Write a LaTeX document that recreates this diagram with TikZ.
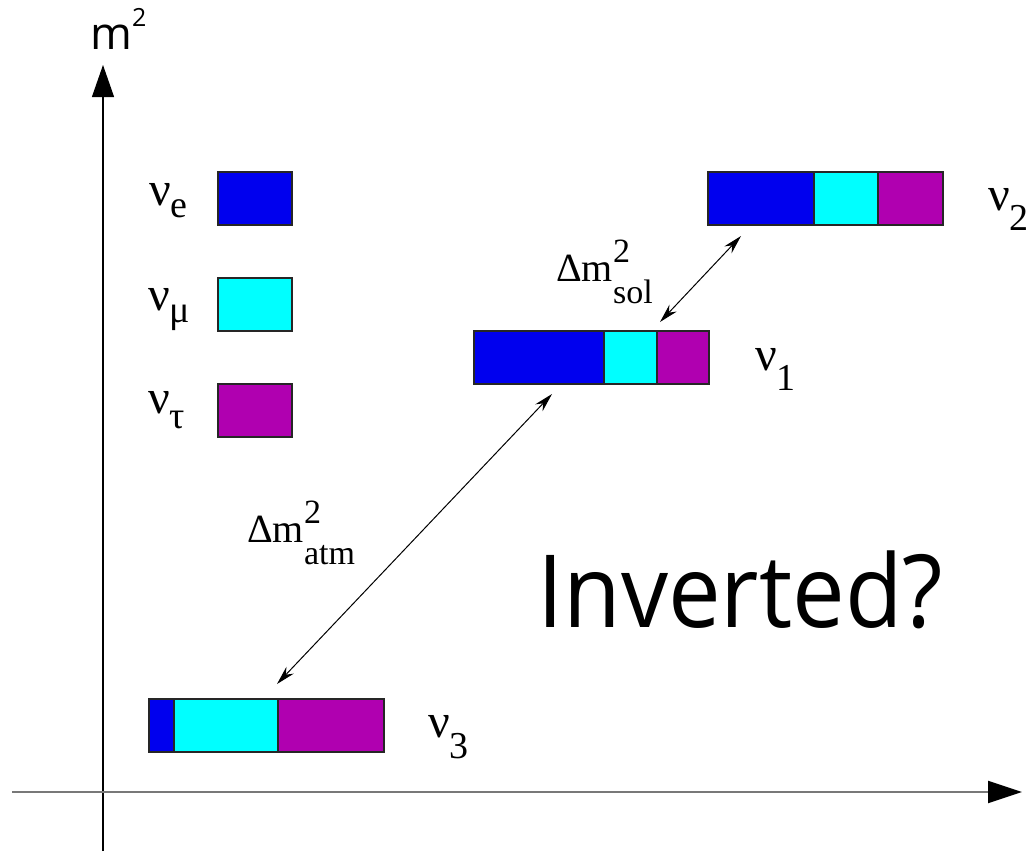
\documentclass[tikz,border=0pt]{standalone}
\usepackage{fontspec}
\setmainfont{Liberation Serif}
\newfontfamily\serf{Liberation Serif}
\newfontfamily\sansf{Open Sans}
\usetikzlibrary{arrows.meta}
\definecolor{nublue}{RGB}{0,0,238}
\definecolor{nucyan}{RGB}{0,255,255}
\definecolor{numag}{RGB}{176,0,176}
\definecolor{axgray}{RGB}{120,120,120}
\newcommand{\nulab}[2]{{\serf\fontsize{48}{48}\selectfont ν}\raisebox{-#2pt}{\serf\fontsize{38}{38}\selectfont #1}}
\newcommand{\dmlab}[1]{{\serf\fontsize{40}{40}\selectfont Δm}{\serf\fontsize{34}{34}\selectfont\rlap{\raisebox{19pt}{2}}\raisebox{-22pt}{#1}}}
\begin{document}
\begin{tikzpicture}[x=1pt,y=-1pt,
  seg/.style={draw=black!85,line width=1.5pt,inner sep=0pt,anchor=north west,minimum height=53pt},
  lab/.style={inner sep=0pt,anchor=base west},
  gap/.style={<->,>={Stealth[length=19pt,width=10pt]},line width=1pt}]
\useasboundingbox (0,0) rectangle (1032,851);
% axes
\coordinate (yb) at (103,851);
\coordinate (yt) at (103,65);
\coordinate (xl) at (12,792);
\coordinate (xr) at (1022,792);
\draw[line width=1.1pt,-{Triangle[length=32pt,width=22pt]}] (yb) -- (yt);
\draw[axgray,line width=2.2pt,-{Triangle[length=34pt,width=22pt,color=black,fill=black]}] (xl) -- (xr);
\node[lab,font=\sansf\fontsize{45}{45}\selectfont] (m2) at (90,49) {m};
\node[lab,font=\sansf\fontsize{25}{25}\selectfont] (m2s) at (132,27) {2};
% legend
\node[seg,fill=nublue,minimum width=74pt] (le) at (217,171) {};
\node[seg,fill=nucyan,minimum width=74pt] (lm) at (217,277) {};
\node[seg,fill=numag,minimum width=74pt] (lt) at (217,383) {};
\node[lab] (lne) at (149,205) {\nulab{e}{12}};
\node[lab] (lnm) at (148,310) {\nulab{μ}{12}};
\node[lab] (lnt) at (148,413) {\nulab{τ}{15}};
% nu2
\node[seg,fill=nublue,minimum width=106pt] (b2a) at (707,171) {};
\node[seg,fill=nucyan,minimum width=64pt] (b2b) at (813,171) {};
\node[seg,fill=numag,minimum width=65pt] (b2c) at (877,171) {};
\node[lab] (n2) at (988,210) {\nulab{2}{20}};
% nu1
\node[seg,fill=nublue,minimum width=130pt] (b1a) at (473,330) {};
\node[seg,fill=nucyan,minimum width=53pt] (b1b) at (603,330) {};
\node[seg,fill=numag,minimum width=52pt] (b1c) at (656,330) {};
\node[lab] (n1) at (755,370) {\nulab{1}{20}};
% nu3
\node[seg,fill=nublue,minimum width=25pt] (b3a) at (148,698) {};
\node[seg,fill=nucyan,minimum width=104pt] (b3b) at (173,698) {};
\node[seg,fill=numag,minimum width=106pt] (b3c) at (277,698) {};
\node[lab] (n3) at (428,737) {\nulab{3}{21}};
% gaps
\coordinate (s1) at (660,322);
\coordinate (s2) at (741,236);
\coordinate (a1) at (277,684);
\coordinate (a2) at (552,394);
\draw[gap] (s1) -- (s2);
\draw[gap] (a1) -- (a2);
\node[lab] (dsol) at (556,281) {\dmlab{sol}};
\node[lab] (datm) at (247,542) {\dmlab{atm}};
\node[lab,font=\sansf\fontsize{101}{101}\selectfont] (inv) at (537,627) {\scalebox{0.93}[1]{Inverted?}};
\end{tikzpicture}
\end{document}
